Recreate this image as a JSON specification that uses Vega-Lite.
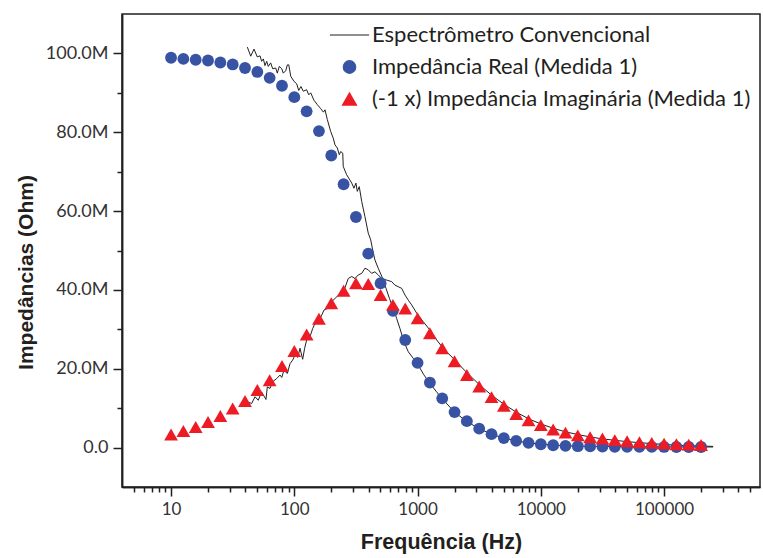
{
  "$schema": "https://vega.github.io/schema/vega-lite/v6.json",
  "width": 638,
  "height": 473,
  "autosize": {"type": "none"},
  "padding": {"left": 122, "top": 14, "right": 3, "bottom": 71},
  "background": "white",
  "config": {
    "view": {"stroke": "#231f20", "strokeWidth": 1.5},
    "axis": {
      "grid": false,
      "domainColor": "#231f20",
      "domainWidth": 1.5,
      "tickColor": "#231f20",
      "tickWidth": 1.5,
      "labelFont": "Lato",
      "labelFontSize": 17,
      "labelColor": "#333333",
      "titleFont": "Liberation Sans",
      "titleFontWeight": "bold",
      "titleFontSize": 21,
      "titleColor": "#231f20"
    }
  },
  "datasets": {
    "espectrometro": [
      {"s": "Espectrômetro Convencional", "p": "real", "f": 41.6, "z": 101.6},
      {"s": "Espectrômetro Convencional", "p": "real", "f": 44.3, "z": 99.3},
      {"s": "Espectrômetro Convencional", "p": "real", "f": 47.1, "z": 101.1},
      {"s": "Espectrômetro Convencional", "p": "real", "f": 50.1, "z": 99.1},
      {"s": "Espectrômetro Convencional", "p": "real", "f": 52.7, "z": 99.4},
      {"s": "Espectrômetro Convencional", "p": "real", "f": 54.3, "z": 98.0},
      {"s": "Espectrômetro Convencional", "p": "real", "f": 56.1, "z": 98.6},
      {"s": "Espectrômetro Convencional", "p": "real", "f": 57.8, "z": 96.9},
      {"s": "Espectrômetro Convencional", "p": "real", "f": 59.7, "z": 98.0},
      {"s": "Espectrômetro Convencional", "p": "real", "f": 61.5, "z": 96.7},
      {"s": "Espectrômetro Convencional", "p": "real", "f": 64.3, "z": 97.6},
      {"s": "Espectrômetro Convencional", "p": "real", "f": 66.8, "z": 96.1},
      {"s": "Espectrômetro Convencional", "p": "real", "f": 70.6, "z": 96.3},
      {"s": "Espectrômetro Convencional", "p": "real", "f": 72.8, "z": 95.0},
      {"s": "Espectrômetro Convencional", "p": "real", "f": 75.5, "z": 96.7},
      {"s": "Espectrômetro Convencional", "p": "real", "f": 79.1, "z": 96.1},
      {"s": "Espectrômetro Convencional", "p": "real", "f": 81.5, "z": 95.0},
      {"s": "Espectrômetro Convencional", "p": "real", "f": 85.1, "z": 95.6},
      {"s": "Espectrômetro Convencional", "p": "real", "f": 87.9, "z": 97.1},
      {"s": "Espectrômetro Convencional", "p": "real", "f": 90.2, "z": 97.1},
      {"s": "Espectrômetro Convencional", "p": "real", "f": 93.5, "z": 94.2},
      {"s": "Espectrômetro Convencional", "p": "real", "f": 99.5, "z": 92.9},
      {"s": "Espectrômetro Convencional", "p": "real", "f": 104.5, "z": 92.3},
      {"s": "Espectrômetro Convencional", "p": "real", "f": 108.6, "z": 90.6},
      {"s": "Espectrômetro Convencional", "p": "real", "f": 113.2, "z": 91.6},
      {"s": "Espectrômetro Convencional", "p": "real", "f": 118.3, "z": 90.4},
      {"s": "Espectrômetro Convencional", "p": "real", "f": 125.9, "z": 90.8},
      {"s": "Espectrômetro Convencional", "p": "real", "f": 130.9, "z": 89.5},
      {"s": "Espectrômetro Convencional", "p": "real", "f": 135.8, "z": 90.0},
      {"s": "Espectrômetro Convencional", "p": "real", "f": 144.5, "z": 88.1},
      {"s": "Espectrômetro Convencional", "p": "real", "f": 153.8, "z": 87.0},
      {"s": "Espectrômetro Convencional", "p": "real", "f": 163.7, "z": 86.0},
      {"s": "Espectrômetro Convencional", "p": "real", "f": 172.2, "z": 85.1},
      {"s": "Espectrômetro Convencional", "p": "real", "f": 177.4, "z": 85.7},
      {"s": "Espectrômetro Convencional", "p": "real", "f": 185.4, "z": 83.2},
      {"s": "Espectrômetro Convencional", "p": "real", "f": 197.2, "z": 80.2},
      {"s": "Espectrômetro Convencional", "p": "real", "f": 207.0, "z": 78.5},
      {"s": "Espectrômetro Convencional", "p": "real", "f": 213.8, "z": 76.8},
      {"s": "Espectrômetro Convencional", "p": "real", "f": 223.4, "z": 76.0},
      {"s": "Espectrômetro Convencional", "p": "real", "f": 231.7, "z": 74.3},
      {"s": "Espectrômetro Convencional", "p": "real", "f": 237.7, "z": 75.1},
      {"s": "Espectrômetro Convencional", "p": "real", "f": 247.2, "z": 74.7},
      {"s": "Espectrômetro Convencional", "p": "real", "f": 249.5, "z": 71.3},
      {"s": "Espectrômetro Convencional", "p": "real", "f": 266.1, "z": 69.2},
      {"s": "Espectrômetro Convencional", "p": "real", "f": 292.4, "z": 67.1},
      {"s": "Espectrômetro Convencional", "p": "real", "f": 304.8, "z": 65.8},
      {"s": "Espectrômetro Convencional", "p": "real", "f": 316.2, "z": 67.1},
      {"s": "Espectrômetro Convencional", "p": "real", "f": 324.3, "z": 65.0},
      {"s": "Espectrômetro Convencional", "p": "real", "f": 336.5, "z": 66.2},
      {"s": "Espectrômetro Convencional", "p": "real", "f": 352.4, "z": 62.4},
      {"s": "Espectrômetro Convencional", "p": "real", "f": 374.1, "z": 58.6},
      {"s": "Espectrômetro Convencional", "p": "real", "f": 398.1, "z": 54.4},
      {"s": "Espectrômetro Convencional", "p": "real", "f": 416.9, "z": 52.7},
      {"s": "Espectrômetro Convencional", "p": "real", "f": 432.5, "z": 50.1},
      {"s": "Espectrômetro Convencional", "p": "real", "f": 450.8, "z": 47.6},
      {"s": "Espectrômetro Convencional", "p": "real", "f": 479.7, "z": 45.5},
      {"s": "Espectrômetro Convencional", "p": "real", "f": 521.2, "z": 42.9},
      {"s": "Espectrômetro Convencional", "p": "real", "f": 554.6, "z": 40.4},
      {"s": "Espectrômetro Convencional", "p": "real", "f": 590.2, "z": 37.9},
      {"s": "Espectrômetro Convencional", "p": "real", "f": 635.3, "z": 35.3},
      {"s": "Espectrômetro Convencional", "p": "real", "f": 676.1, "z": 32.8},
      {"s": "Espectrômetro Convencional", "p": "real", "f": 719.5, "z": 30.2},
      {"s": "Espectrômetro Convencional", "p": "real", "f": 776.2, "z": 26.8},
      {"s": "Espectrômetro Convencional", "p": "real", "f": 841.4, "z": 24.3},
      {"s": "Espectrômetro Convencional", "p": "real", "f": 924.7, "z": 22.6},
      {"s": "Espectrômetro Convencional", "p": "real", "f": 1014, "z": 20.9},
      {"s": "Espectrômetro Convencional", "p": "real", "f": 1122, "z": 18.5},
      {"s": "Espectrômetro Convencional", "p": "real", "f": 1259, "z": 16.3},
      {"s": "Espectrômetro Convencional", "p": "real", "f": 1413, "z": 14.3},
      {"s": "Espectrômetro Convencional", "p": "real", "f": 1585, "z": 12.4},
      {"s": "Espectrômetro Convencional", "p": "real", "f": 1995, "z": 9.0},
      {"s": "Espectrômetro Convencional", "p": "real", "f": 2512, "z": 6.6},
      {"s": "Espectrômetro Convencional", "p": "real", "f": 3162, "z": 4.8},
      {"s": "Espectrômetro Convencional", "p": "real", "f": 3981, "z": 3.4},
      {"s": "Espectrômetro Convencional", "p": "real", "f": 5012, "z": 2.4},
      {"s": "Espectrômetro Convencional", "p": "real", "f": 6310, "z": 1.7},
      {"s": "Espectrômetro Convencional", "p": "real", "f": 7943, "z": 1.2},
      {"s": "Espectrômetro Convencional", "p": "real", "f": 10000, "z": 0.85},
      {"s": "Espectrômetro Convencional", "p": "real", "f": 15849, "z": 0.45},
      {"s": "Espectrômetro Convencional", "p": "real", "f": 25119, "z": 0.3},
      {"s": "Espectrômetro Convencional", "p": "real", "f": 50119, "z": 0.2},
      {"s": "Espectrômetro Convencional", "p": "real", "f": 100000, "z": 0.17},
      {"s": "Espectrômetro Convencional", "p": "real", "f": 250000, "z": 0.15},
      {"s": "Espectrômetro Convencional", "p": "imag", "f": 42.2, "z": 11.5},
      {"s": "Espectrômetro Convencional", "p": "imag", "f": 45.1, "z": 11.2},
      {"s": "Espectrômetro Convencional", "p": "imag", "f": 48.0, "z": 12.9},
      {"s": "Espectrômetro Convencional", "p": "imag", "f": 51.0, "z": 12.0},
      {"s": "Espectrômetro Convencional", "p": "imag", "f": 54.3, "z": 14.1},
      {"s": "Espectrômetro Convencional", "p": "imag", "f": 58.9, "z": 12.2},
      {"s": "Espectrômetro Convencional", "p": "imag", "f": 60.4, "z": 15.4},
      {"s": "Espectrômetro Convencional", "p": "imag", "f": 63.5, "z": 15.0},
      {"s": "Espectrômetro Convencional", "p": "imag", "f": 66.8, "z": 16.7},
      {"s": "Espectrômetro Convencional", "p": "imag", "f": 71.9, "z": 17.5},
      {"s": "Espectrômetro Convencional", "p": "imag", "f": 76.6, "z": 18.4},
      {"s": "Espectrômetro Convencional", "p": "imag", "f": 79.1, "z": 17.8},
      {"s": "Espectrômetro Convencional", "p": "imag", "f": 82.4, "z": 19.6},
      {"s": "Espectrômetro Convencional", "p": "imag", "f": 87.7, "z": 18.8},
      {"s": "Espectrômetro Convencional", "p": "imag", "f": 92.3, "z": 21.3},
      {"s": "Espectrômetro Convencional", "p": "imag", "f": 97.0, "z": 22.2},
      {"s": "Espectrômetro Convencional", "p": "imag", "f": 101.4, "z": 23.5},
      {"s": "Espectrômetro Convencional", "p": "imag", "f": 106.7, "z": 22.9},
      {"s": "Espectrômetro Convencional", "p": "imag", "f": 111.2, "z": 25.2},
      {"s": "Espectrômetro Convencional", "p": "imag", "f": 116.9, "z": 22.4},
      {"s": "Espectrômetro Convencional", "p": "imag", "f": 121.3, "z": 25.2},
      {"s": "Espectrômetro Convencional", "p": "imag", "f": 125.9, "z": 27.3},
      {"s": "Espectrômetro Convencional", "p": "imag", "f": 134.0, "z": 28.1},
      {"s": "Espectrômetro Convencional", "p": "imag", "f": 140.9, "z": 30.2},
      {"s": "Espectrômetro Convencional", "p": "imag", "f": 147.2, "z": 31.5},
      {"s": "Espectrômetro Convencional", "p": "imag", "f": 156.7, "z": 31.9},
      {"s": "Espectrômetro Convencional", "p": "imag", "f": 166.7, "z": 33.6},
      {"s": "Espectrômetro Convencional", "p": "imag", "f": 174.2, "z": 34.9},
      {"s": "Espectrômetro Convencional", "p": "imag", "f": 185.4, "z": 35.3},
      {"s": "Espectrômetro Convencional", "p": "imag", "f": 195.0, "z": 36.6},
      {"s": "Espectrômetro Convencional", "p": "imag", "f": 209.9, "z": 37.6},
      {"s": "Espectrômetro Convencional", "p": "imag", "f": 223.4, "z": 38.4},
      {"s": "Espectrômetro Convencional", "p": "imag", "f": 242.1, "z": 39.1},
      {"s": "Espectrômetro Convencional", "p": "imag", "f": 257.0, "z": 40.5},
      {"s": "Espectrômetro Convencional", "p": "imag", "f": 274.2, "z": 42.9},
      {"s": "Espectrômetro Convencional", "p": "imag", "f": 292.4, "z": 43.4},
      {"s": "Espectrômetro Convencional", "p": "imag", "f": 310.5, "z": 42.9},
      {"s": "Espectrômetro Convencional", "p": "imag", "f": 330.4, "z": 43.8},
      {"s": "Espectrômetro Convencional", "p": "imag", "f": 352.4, "z": 44.2},
      {"s": "Espectrômetro Convencional", "p": "imag", "f": 374.1, "z": 45.5},
      {"s": "Espectrômetro Convencional", "p": "imag", "f": 398.1, "z": 45.1},
      {"s": "Espectrômetro Convencional", "p": "imag", "f": 423.6, "z": 44.2},
      {"s": "Espectrômetro Convencional", "p": "imag", "f": 450.8, "z": 44.6},
      {"s": "Espectrômetro Convencional", "p": "imag", "f": 479.7, "z": 43.8},
      {"s": "Espectrômetro Convencional", "p": "imag", "f": 511.7, "z": 42.9},
      {"s": "Espectrômetro Convencional", "p": "imag", "f": 561.0, "z": 42.5},
      {"s": "Espectrômetro Convencional", "p": "imag", "f": 616.6, "z": 42.1},
      {"s": "Espectrômetro Convencional", "p": "imag", "f": 656.1, "z": 41.2},
      {"s": "Espectrômetro Convencional", "p": "imag", "f": 698.2, "z": 40.8},
      {"s": "Espectrômetro Convencional", "p": "imag", "f": 743.0, "z": 40.4},
      {"s": "Espectrômetro Convencional", "p": "imag", "f": 790.7, "z": 38.7},
      {"s": "Espectrômetro Convencional", "p": "imag", "f": 841.4, "z": 37.4},
      {"s": "Espectrômetro Convencional", "p": "imag", "f": 895.4, "z": 36.2},
      {"s": "Espectrômetro Convencional", "p": "imag", "f": 984.0, "z": 34.1},
      {"s": "Espectrômetro Convencional", "p": "imag", "f": 1114, "z": 31.9},
      {"s": "Espectrômetro Convencional", "p": "imag", "f": 1262, "z": 29.8},
      {"s": "Espectrômetro Convencional", "p": "imag", "f": 1429, "z": 27.3},
      {"s": "Espectrômetro Convencional", "p": "imag", "f": 1614, "z": 25.2},
      {"s": "Espectrômetro Convencional", "p": "imag", "f": 1950, "z": 22.6},
      {"s": "Espectrômetro Convencional", "p": "imag", "f": 2512, "z": 19.0},
      {"s": "Espectrômetro Convencional", "p": "imag", "f": 3162, "z": 16.0},
      {"s": "Espectrômetro Convencional", "p": "imag", "f": 3981, "z": 13.3},
      {"s": "Espectrômetro Convencional", "p": "imag", "f": 5012, "z": 11.0},
      {"s": "Espectrômetro Convencional", "p": "imag", "f": 6310, "z": 9.0},
      {"s": "Espectrômetro Convencional", "p": "imag", "f": 7943, "z": 7.3},
      {"s": "Espectrômetro Convencional", "p": "imag", "f": 10000, "z": 6.0},
      {"s": "Espectrômetro Convencional", "p": "imag", "f": 12589, "z": 4.9},
      {"s": "Espectrômetro Convencional", "p": "imag", "f": 15849, "z": 4.0},
      {"s": "Espectrômetro Convencional", "p": "imag", "f": 19953, "z": 3.3},
      {"s": "Espectrômetro Convencional", "p": "imag", "f": 25119, "z": 2.7},
      {"s": "Espectrômetro Convencional", "p": "imag", "f": 31623, "z": 2.2},
      {"s": "Espectrômetro Convencional", "p": "imag", "f": 50119, "z": 1.5},
      {"s": "Espectrômetro Convencional", "p": "imag", "f": 79433, "z": 1.0},
      {"s": "Espectrômetro Convencional", "p": "imag", "f": 125893, "z": 0.6},
      {"s": "Espectrômetro Convencional", "p": "imag", "f": 250000, "z": 0.3}
    ],
    "medidas": [
      {"s": "Impedância Real (Medida 1)", "f": 10, "z": 98.9},
      {"s": "Impedância Real (Medida 1)", "f": 12.589, "z": 98.6},
      {"s": "Impedância Real (Medida 1)", "f": 15.849, "z": 98.4},
      {"s": "Impedância Real (Medida 1)", "f": 19.953, "z": 98.2},
      {"s": "Impedância Real (Medida 1)", "f": 25.119, "z": 97.7},
      {"s": "Impedância Real (Medida 1)", "f": 31.623, "z": 97.2},
      {"s": "Impedância Real (Medida 1)", "f": 39.811, "z": 96.3},
      {"s": "Impedância Real (Medida 1)", "f": 50.119, "z": 95.3},
      {"s": "Impedância Real (Medida 1)", "f": 63.096, "z": 93.8},
      {"s": "Impedância Real (Medida 1)", "f": 79.433, "z": 91.8},
      {"s": "Impedância Real (Medida 1)", "f": 100, "z": 88.9},
      {"s": "Impedância Real (Medida 1)", "f": 125.89, "z": 85.3},
      {"s": "Impedância Real (Medida 1)", "f": 158.49, "z": 80.3},
      {"s": "Impedância Real (Medida 1)", "f": 199.53, "z": 74.1},
      {"s": "Impedância Real (Medida 1)", "f": 251.19, "z": 66.8},
      {"s": "Impedância Real (Medida 1)", "f": 316.23, "z": 58.5},
      {"s": "Impedância Real (Medida 1)", "f": 398.11, "z": 49.2},
      {"s": "Impedância Real (Medida 1)", "f": 501.19, "z": 41.7},
      {"s": "Impedância Real (Medida 1)", "f": 630.96, "z": 34.7},
      {"s": "Impedância Real (Medida 1)", "f": 794.33, "z": 27.3},
      {"s": "Impedância Real (Medida 1)", "f": 1000, "z": 21.5},
      {"s": "Impedância Real (Medida 1)", "f": 1258.9, "z": 16.5},
      {"s": "Impedância Real (Medida 1)", "f": 1584.9, "z": 12.5},
      {"s": "Impedância Real (Medida 1)", "f": 1995.3, "z": 9.0},
      {"s": "Impedância Real (Medida 1)", "f": 2511.9, "z": 6.7},
      {"s": "Impedância Real (Medida 1)", "f": 3162.3, "z": 4.8},
      {"s": "Impedância Real (Medida 1)", "f": 3981.1, "z": 3.4},
      {"s": "Impedância Real (Medida 1)", "f": 5011.9, "z": 2.4},
      {"s": "Impedância Real (Medida 1)", "f": 6309.6, "z": 1.7},
      {"s": "Impedância Real (Medida 1)", "f": 7943.3, "z": 1.2},
      {"s": "Impedância Real (Medida 1)", "f": 10000, "z": 0.85},
      {"s": "Impedância Real (Medida 1)", "f": 12589, "z": 0.6},
      {"s": "Impedância Real (Medida 1)", "f": 15849, "z": 0.45},
      {"s": "Impedância Real (Medida 1)", "f": 19953, "z": 0.35},
      {"s": "Impedância Real (Medida 1)", "f": 25119, "z": 0.3},
      {"s": "Impedância Real (Medida 1)", "f": 31623, "z": 0.25},
      {"s": "Impedância Real (Medida 1)", "f": 39811, "z": 0.22},
      {"s": "Impedância Real (Medida 1)", "f": 50119, "z": 0.2},
      {"s": "Impedância Real (Medida 1)", "f": 63096, "z": 0.18},
      {"s": "Impedância Real (Medida 1)", "f": 79433, "z": 0.17},
      {"s": "Impedância Real (Medida 1)", "f": 100000, "z": 0.16},
      {"s": "Impedância Real (Medida 1)", "f": 125893, "z": 0.15},
      {"s": "Impedância Real (Medida 1)", "f": 158489, "z": 0.15},
      {"s": "Impedância Real (Medida 1)", "f": 199526, "z": 0.15},
      {"s": "(-1 x) Impedância Imaginária (Medida 1)", "f": 10, "z": 3.3},
      {"s": "(-1 x) Impedância Imaginária (Medida 1)", "f": 12.589, "z": 4.2},
      {"s": "(-1 x) Impedância Imaginária (Medida 1)", "f": 15.849, "z": 5.2},
      {"s": "(-1 x) Impedância Imaginária (Medida 1)", "f": 19.953, "z": 6.5},
      {"s": "(-1 x) Impedância Imaginária (Medida 1)", "f": 25.119, "z": 8.0},
      {"s": "(-1 x) Impedância Imaginária (Medida 1)", "f": 31.623, "z": 9.9},
      {"s": "(-1 x) Impedância Imaginária (Medida 1)", "f": 39.811, "z": 11.8},
      {"s": "(-1 x) Impedância Imaginária (Medida 1)", "f": 50.119, "z": 14.6},
      {"s": "(-1 x) Impedância Imaginária (Medida 1)", "f": 63.096, "z": 17.1},
      {"s": "(-1 x) Impedância Imaginária (Medida 1)", "f": 79.433, "z": 20.7},
      {"s": "(-1 x) Impedância Imaginária (Medida 1)", "f": 100, "z": 24.5},
      {"s": "(-1 x) Impedância Imaginária (Medida 1)", "f": 125.89, "z": 28.7},
      {"s": "(-1 x) Impedância Imaginária (Medida 1)", "f": 158.49, "z": 32.7},
      {"s": "(-1 x) Impedância Imaginária (Medida 1)", "f": 199.53, "z": 36.6},
      {"s": "(-1 x) Impedância Imaginária (Medida 1)", "f": 251.19, "z": 39.8},
      {"s": "(-1 x) Impedância Imaginária (Medida 1)", "f": 316.23, "z": 41.7},
      {"s": "(-1 x) Impedância Imaginária (Medida 1)", "f": 398.11, "z": 41.5},
      {"s": "(-1 x) Impedância Imaginária (Medida 1)", "f": 501.19, "z": 38.7},
      {"s": "(-1 x) Impedância Imaginária (Medida 1)", "f": 630.96, "z": 36.2},
      {"s": "(-1 x) Impedância Imaginária (Medida 1)", "f": 794.33, "z": 35.3},
      {"s": "(-1 x) Impedância Imaginária (Medida 1)", "f": 1000, "z": 32.8},
      {"s": "(-1 x) Impedância Imaginária (Medida 1)", "f": 1258.9, "z": 29.0},
      {"s": "(-1 x) Impedância Imaginária (Medida 1)", "f": 1584.9, "z": 25.2},
      {"s": "(-1 x) Impedância Imaginária (Medida 1)", "f": 1995.3, "z": 21.9},
      {"s": "(-1 x) Impedância Imaginária (Medida 1)", "f": 2511.9, "z": 18.4},
      {"s": "(-1 x) Impedância Imaginária (Medida 1)", "f": 3162.3, "z": 15.5},
      {"s": "(-1 x) Impedância Imaginária (Medida 1)", "f": 3981.1, "z": 12.8},
      {"s": "(-1 x) Impedância Imaginária (Medida 1)", "f": 5011.9, "z": 10.6},
      {"s": "(-1 x) Impedância Imaginária (Medida 1)", "f": 6309.6, "z": 8.5},
      {"s": "(-1 x) Impedância Imaginária (Medida 1)", "f": 7943.3, "z": 6.9},
      {"s": "(-1 x) Impedância Imaginária (Medida 1)", "f": 10000, "z": 5.7},
      {"s": "(-1 x) Impedância Imaginária (Medida 1)", "f": 12589, "z": 4.6},
      {"s": "(-1 x) Impedância Imaginária (Medida 1)", "f": 15849, "z": 3.8},
      {"s": "(-1 x) Impedância Imaginária (Medida 1)", "f": 19953, "z": 3.1},
      {"s": "(-1 x) Impedância Imaginária (Medida 1)", "f": 25119, "z": 2.6},
      {"s": "(-1 x) Impedância Imaginária (Medida 1)", "f": 31623, "z": 2.3},
      {"s": "(-1 x) Impedância Imaginária (Medida 1)", "f": 39811, "z": 1.9},
      {"s": "(-1 x) Impedância Imaginária (Medida 1)", "f": 50119, "z": 1.6},
      {"s": "(-1 x) Impedância Imaginária (Medida 1)", "f": 63096, "z": 1.35},
      {"s": "(-1 x) Impedância Imaginária (Medida 1)", "f": 79433, "z": 1.2},
      {"s": "(-1 x) Impedância Imaginária (Medida 1)", "f": 100000, "z": 1.0},
      {"s": "(-1 x) Impedância Imaginária (Medida 1)", "f": 125893, "z": 0.85},
      {"s": "(-1 x) Impedância Imaginária (Medida 1)", "f": 158489, "z": 0.75},
      {"s": "(-1 x) Impedância Imaginária (Medida 1)", "f": 199526, "z": 0.65}
    ]
  },
  "layer": [
    {
      "data": {"name": "espectrometro"},
      "mark": {"type": "line", "strokeWidth": 1, "interpolate": "linear"},
      "encoding": {
        "x": {
          "field": "f", "type": "quantitative",
          "scale": {"type": "log", "domain": [4, 600000], "nice": false},
          "axis": {
            "title": "Frequência (Hz)",
            "values": [10, 100, 1000, 10000, 100000],
            "labelExpr": "format(datum.value, 'd')",
            "tickSize": 9,
            "labelPadding": 5,
            "labelFlush": false,
            "labelOverlap": false,
            "titlePadding": 14,
            "titleFontSize": 21.5
          }
        },
        "y": {
          "field": "z", "type": "quantitative",
          "scale": {"domain": [-10, 110], "nice": false, "zero": false},
          "axis": {
            "title": "Impedâncias (Ohm)",
            "values": [0, 20, 40, 60, 80, 100],
            "labelExpr": "datum.value === 0 ? '0.0' : format(datum.value, '.1f') + 'M'",
            "labelFontSize": 18,
            "tickSize": 9,
            "labelPadding": 5,
            "labelFlush": false,
            "labelOverlap": false,
            "titlePadding": 9,
            "titleY": 258
          }
        },
        "detail": {"field": "p"},
        "color": {
          "field": "s", "type": "nominal",
          "scale": {
            "domain": ["Espectrômetro Convencional", "Impedância Real (Medida 1)", "(-1 x) Impedância Imaginária (Medida 1)"],
            "range": ["#231f20", "#3953a4", "#ed1c24"]
          },
          "legend": {
            "orient": "none",
            "legendX": 216.5,
            "legendY": 10,
            "title": null,
            "padding": 0,
            "labelFont": "Lato",
            "labelFontSize": 22,
            "labelColor": "#231f20",
            "labelLimit": 600,
            "labelOffset": 11.5,
            "rowPadding": 10,
            "symbolSize": 150,
            "encode": {
              "symbols": {
                "update": {
                  "shape": {"signal": "datum.value === 'Espectrômetro Convencional' ? 'M-3.1,0H3.1' : (datum.value === 'Impedância Real (Medida 1)' ? 'circle' : 'triangle-up')"},
                  "fill": {"signal": "datum.value === 'Espectrômetro Convencional' ? 'transparent' : (datum.value === 'Impedância Real (Medida 1)' ? '#3953a4' : '#ed1c24')"},
                  "stroke": {"signal": "datum.value === 'Espectrômetro Convencional' ? '#231f20' : 'transparent'"},
                  "strokeWidth": {"value": 1.1},
                  "size": {"signal": "datum.value === '(-1 x) Impedância Imaginária (Medida 1)' ? 200 : 160"},
                  "opacity": {"value": 1}
                }
              }
            }
          }
        }
      }
    },
    {
      "data": {"name": "medidas"},
      "transform": [{"filter": "datum.s === 'Impedância Real (Medida 1)'"}],
      "mark": {"type": "point", "filled": true, "opacity": 1, "size": 140, "shape": "circle"},
      "encoding": {
        "x": {
          "field": "f", "type": "quantitative",
          "axis": {
            "title": null,
            "orient": "bottom",
            "labels": false,
            "tickSize": 5,
            "values": [5, 6, 7, 8, 9, 20, 30, 40, 50, 60, 70, 80, 90, 200, 300, 400, 500, 600, 700, 800, 900, 2000, 3000, 4000, 5000, 6000, 7000, 8000, 9000, 20000, 30000, 40000, 50000, 60000, 70000, 80000, 90000, 200000, 300000, 400000, 500000]
          }
        },
        "y": {
          "field": "z", "type": "quantitative",
          "axis": {
            "title": null,
            "orient": "left",
            "labels": false,
            "tickSize": 5,
            "values": [10, 30, 50, 70, 90]
          }
        },
        "color": {"field": "s", "type": "nominal"}
      }
    },
    {
      "data": {"name": "medidas"},
      "transform": [{"filter": "datum.s === '(-1 x) Impedância Imaginária (Medida 1)'"}],
      "mark": {"type": "point", "filled": true, "opacity": 1, "size": 190, "shape": "triangle-up"},
      "encoding": {
        "x": {"field": "f", "type": "quantitative", "axis": null},
        "y": {"field": "z", "type": "quantitative", "axis": null},
        "color": {"field": "s", "type": "nominal"}
      }
    }
  ],
  "resolve": {"axis": {"x": "independent", "y": "independent"}}
}
